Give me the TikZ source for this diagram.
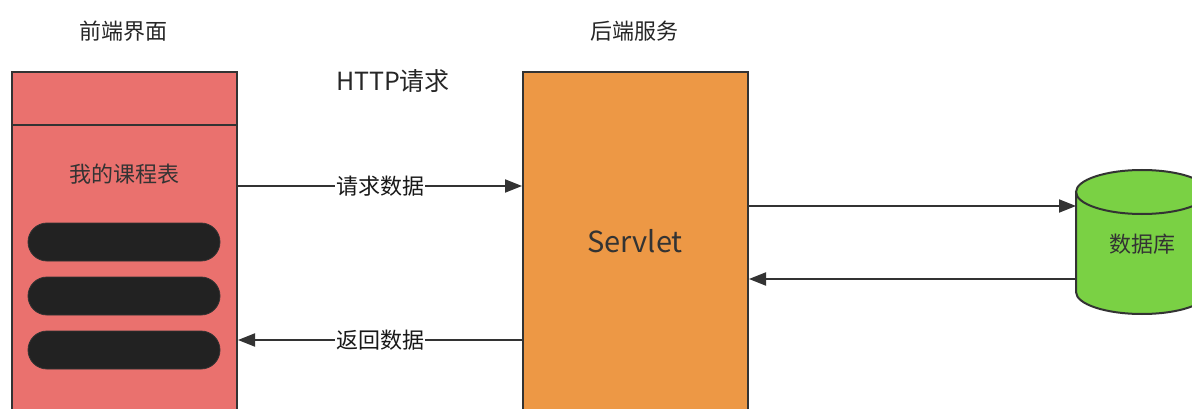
\documentclass[tikz,border=0pt]{standalone}
\usepackage{fontspec}
\setmainfont{Noto Sans CJK SC}
\usetikzlibrary{arrows.meta}
\definecolor{fered}{HTML}{EA716E}
\definecolor{beorange}{HTML}{ED9845}
\definecolor{dbgreen}{HTML}{7AD144}
\definecolor{edge}{HTML}{333333}
\definecolor{pill}{HTML}{222222}
\tikzset{
  panel/.style={draw=edge, line width=2pt, anchor=north west, inner sep=0pt},
  pillbox/.style={fill=pill, draw=edge, line width=0.8pt, rounded corners=19pt, minimum width=192pt, minimum height=38pt, inner sep=0pt},
  title/.style={text=black!85, font=\fontsize{22}{26}\selectfont},
  inner/.style={text=edge, font=\fontsize{22}{26}\selectfont},
  conn/.style={draw=edge, line width=2pt, -{Triangle[length=17pt,width=13pt]}},
  lbl/.style={fill=white, inner sep=1pt, text=black!90, font=\fontsize{22}{26}\selectfont},
}
\begin{document}
\begin{tikzpicture}[x=1pt,y=-1pt]
\useasboundingbox (0,0) rectangle (1192,409);
\clip (0,0) rectangle (1192,409);

% titles
\node[title] (t1) at (123,31) {前端界面};
\node[title] (t2) at (634,31) {后端服务};
\node[title, font=\fontsize{25}{30}\selectfont] (t3) at (393,81) {HTTP请求};

% front end panel
\node[panel, fill=fered, minimum width=225pt, minimum height=400pt] (fe) at (11,71) {};
\draw[draw=edge, line width=2pt] (fe.west |- 0,125) -- (fe.east |- 0,125);
\node[inner] (ftitle) at (124,174) {我的课程表};
\node[pillbox] (p1) at (124,242) {};
\node[pillbox] (p2) at (124,296) {};
\node[pillbox] (p3) at (124,350) {};

% back end panel
\node[panel, fill=beorange, minimum width=225pt, minimum height=400pt] (be) at (522,71) {};
\node[text=edge, font=\fontsize{29}{34}\selectfont] (sv) at (635,241) {Servlet};

% database cylinder
\coordinate (dbtl) at (1076,192);
\fill[dbgreen] (1076,192) -- (1076,292) arc[start angle=180, end angle=360, x radius=66pt, y radius=22pt] -- (1208,192) arc[start angle=0, end angle=180, x radius=66pt, y radius=22pt] -- cycle;
\draw[edge, line width=2pt] (1076,192) -- (1076,292) arc[start angle=180, end angle=360, x radius=66pt, y radius=22pt] -- (1208,192);
\draw[edge, line width=2pt] (1142,192) ellipse[x radius=66pt, y radius=22pt];
\node[inner] (db) at (1142,244) {数据库};

% connectors
\draw[conn] (fe.east |- 0,186) -- node[lbl] (l1) {请求数据} (be.west |- 0,186);
\draw[conn] (be.west |- 0,340) -- node[lbl] (l2) {返回数据} (fe.east |- 0,340);
\draw[conn] (be.east |- 0,206) -- (dbtl |- 0,206);
\draw[conn] (dbtl |- 0,279) -- (be.east |- 0,279);
\end{tikzpicture}
\end{document}
